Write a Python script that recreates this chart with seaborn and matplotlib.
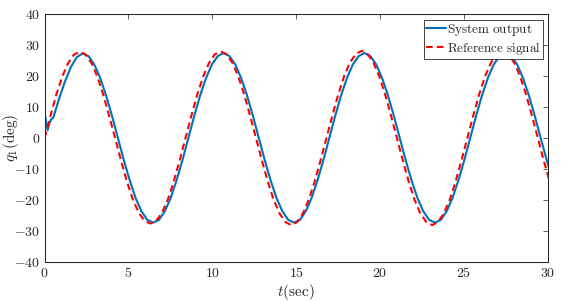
"""
Tracking response of joint q1: system output vs. reference signal
"""

import numpy as np
import pandas as pd
import matplotlib
matplotlib.use('Agg')
import matplotlib.pyplot as plt
import seaborn as sns

sns.set_style('white')
plt.rcParams['mathtext.fontset'] = 'cm'
plt.rcParams['font.family'] = ['DejaVu Serif']

# Reference signal, sampled every 0.35 s starting at t = 0
REF_STEP = 0.35
ref_signal = [
    0.0, 7.2, 14.0, 19.8, 24.1, 26.9, 27.8, 26.9, 24.1, 19.7, 13.9, 7.1,
    0.0, -7.1, -13.9, -19.7, -24.0, -26.7, -27.6, -26.8, -24.1, -19.8, -14.0, -7.2,
    0.0, 7.2, 14.0, 19.8, 24.2, 27.0, 27.9, 27.0, 24.2, 19.8, 14.0, 7.2,
    0.0, -7.2, -14.0, -19.9, -24.3, -27.1, -28.1, -27.1, -24.3, -19.9, -14.0, -7.2,
    0.0, 7.2, 14.0, 19.9, 24.3, 27.1, 28.1, 27.1, 24.3, 19.9, 14.0, 7.2,
    0.0, -7.2, -14.0, -19.9, -24.3, -27.1, -28.1, -27.1, -24.3, -19.9, -14.0, -7.2,
    0.0, 7.2, 14.0, 19.8, 24.2, 27.0, 27.9, 27.0, 24.2, 19.8, 14.0, 7.2,
    0.0, -7.2, -14.0,
]

# System output: start-up transient, then samples every 0.35 s from t = 0.52
transient_time = [0.0, 0.08, 0.18, 0.28, 0.38]
transient_output = [8.0, 5.6, 2.5, 4.6, 5.9]
OUT_START = 0.52
OUT_STEP = 0.35
system_output = [
    6.6, 12.8, 18.3, 22.9, 26.1, 27.3, 26.4, 23.6, 19.3, 13.6, 7.1,
    0.0, -7.1, -13.6, -19.3, -23.6, -26.4, -27.3, -26.4, -23.6, -19.3, -13.6, -7.1,
    0.0, 7.1, 13.7, 19.3, 23.7, 26.4, 27.4, 26.4, 23.7, 19.3, 13.7, 7.1,
    0.0, -7.1, -13.6, -19.3, -23.6, -26.4, -27.3, -26.4, -23.6, -19.3, -13.6, -7.1,
    0.0, 7.1, 13.7, 19.3, 23.7, 26.4, 27.4, 26.4, 23.7, 19.3, 13.7, 7.1,
    0.0, -7.1, -13.6, -19.3, -23.6, -26.4, -27.3, -26.4, -23.6, -19.3, -13.6, -7.1,
    0.0, 7.1, 13.7, 19.3, 23.7, 26.4, 27.4, 26.4, 23.7, 19.3, 13.7, 7.1,
    0.0, -6.9, -13.6,
]

x_ticks = [0, 5, 10, 15, 20, 25, 30]
y_ticks = [-40, -30, -20, -10, 0, 10, 20, 30, 40]

ref_df = pd.DataFrame({
    't': REF_STEP * np.arange(len(ref_signal)),
    'q1': ref_signal,
})
out_df = pd.DataFrame({
    't': np.concatenate([transient_time,
                         OUT_START + OUT_STEP * np.arange(len(system_output))]),
    'q1': transient_output + system_output,
})

fig = plt.figure(figsize=(5.66, 3.01), dpi=100)
ax = fig.add_axes([0.0788, 0.1296, 0.968 - 0.0788, 0.9535 - 0.1296])

sns.lineplot(data=out_df, x='t', y='q1', ax=ax, color='#0072BD', lw=1.5,
             sort=False, label=r'$\mathrm{System\ output}$')
sns.lineplot(data=ref_df, x='t', y='q1', ax=ax, color='#FF0000', lw=1.5,
             sort=False, linestyle=(0, (3.2, 2.0)),
             label=r'$\mathrm{Reference\ signal}$')

ax.set_xlim(0, 30)
ax.set_ylim(-40, 40)
ax.set_xticks(x_ticks)
ax.set_yticks(y_ticks)
ax.set_xticklabels([f'${v}$' for v in x_ticks], fontsize=10)
ax.set_yticklabels([f'${v}$' for v in y_ticks], fontsize=10)
ax.tick_params(direction='in', length=3.5, width=0.6, color='#404040',
               top=True, right=True, pad=3)

for s in ax.spines.values():
    s.set_visible(True)
    s.set_color('#262626')
    s.set_linewidth(0.75)

ax.set_xlabel(r'$t(\mathrm{sec})$', fontsize=11, labelpad=1)
ax.set_ylabel(r'$q_1(\mathrm{deg})$', fontsize=11)
ax.yaxis.set_label_coords(-0.047, 0.5)

leg = ax.legend(loc='upper right', bbox_to_anchor=(0.990, 0.976),
                borderaxespad=0, fontsize=9.5, handlelength=1.5,
                handletextpad=0.1, borderpad=0.15, labelspacing=0.15,
                fancybox=False, framealpha=1, edgecolor='#262626')
leg.get_frame().set_linewidth(0.6)

fig.savefig('out.png', dpi=100)
